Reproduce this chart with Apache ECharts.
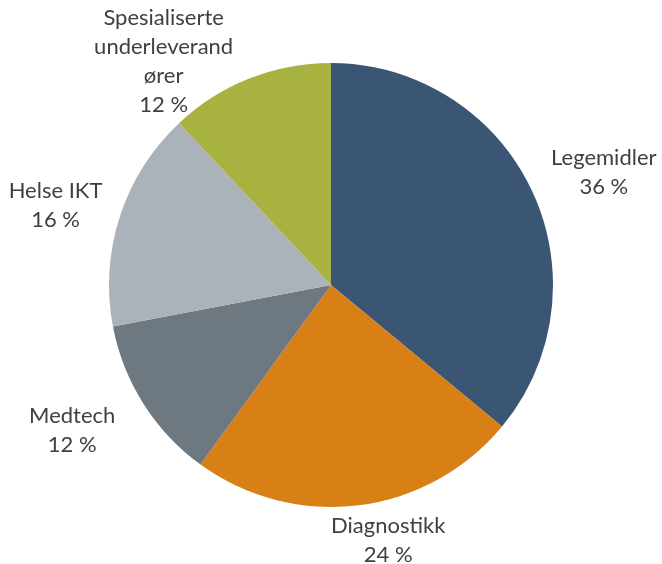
<!DOCTYPE html>
<html>
<head>
<meta charset="utf-8">
<script src="https://cdn.jsdelivr.net/npm/echarts@6/dist/echarts.min.js"></script>
<style>
  html, body { margin: 0; padding: 0; background: #fff; }
  #chart { width: 662px; height: 564px; }
</style>
</head>
<body>
<div id="chart"></div>
<script>
// data
const categories = ["Legemidler", "Diagnostikk", "Medtech", "Helse IKT", "Spesialiserte underleverandører"];
const shares = [36, 24, 12, 16, 12];
// label text as it wraps in the original
const labelNames = ["Legemidler", "Diagnostikk", "Medtech", "Helse IKT", "Spesialiserte\nunderleverand\nører"];
const colors = ["#3a5674", "#d87f16", "#6e7880", "#abb2b9", "#a8b240"];

// label placement (label line hidden, only used for distance)
const lineLen = [43, 35, 49, 34, 18];
const lineLen2 = [-47, -55, -50, -48, -1];

const chart = echarts.init(document.getElementById("chart"));

const seriesData = categories.map((name, i) => ({
  name: name,
  value: shares[i],
  itemStyle: { color: colors[i] },
  labelLine: { show: false, length: lineLen[i], length2: lineLen2[i] }
}));

chart.setOption({
  animation: false,
  series: [
    {
      type: "pie",
      center: ["50%", 285],
      radius: 222,
      startAngle: 90,
      clockwise: true,
      avoidLabelOverlap: false,
      emphasis: { disabled: true },
      data: seriesData,
      label: {
        show: true,
        position: "outside",
        distanceToLabelLine: 5,
        formatter: p => {
          let lines = labelNames[p.dataIndex].split("\n");
          lines.push(p.value + " %");
          return lines.map(l => "{t|" + l + "}").join("\n");
        },
        rich: {
          t: {
            width: 150,
            align: "center",
            lineHeight: 29,
            fontSize: 22,
            fontFamily: "Lato",
            color: "#404040"
          }
        }
      }
    }
  ]
});
</script>
</body>
</html>
